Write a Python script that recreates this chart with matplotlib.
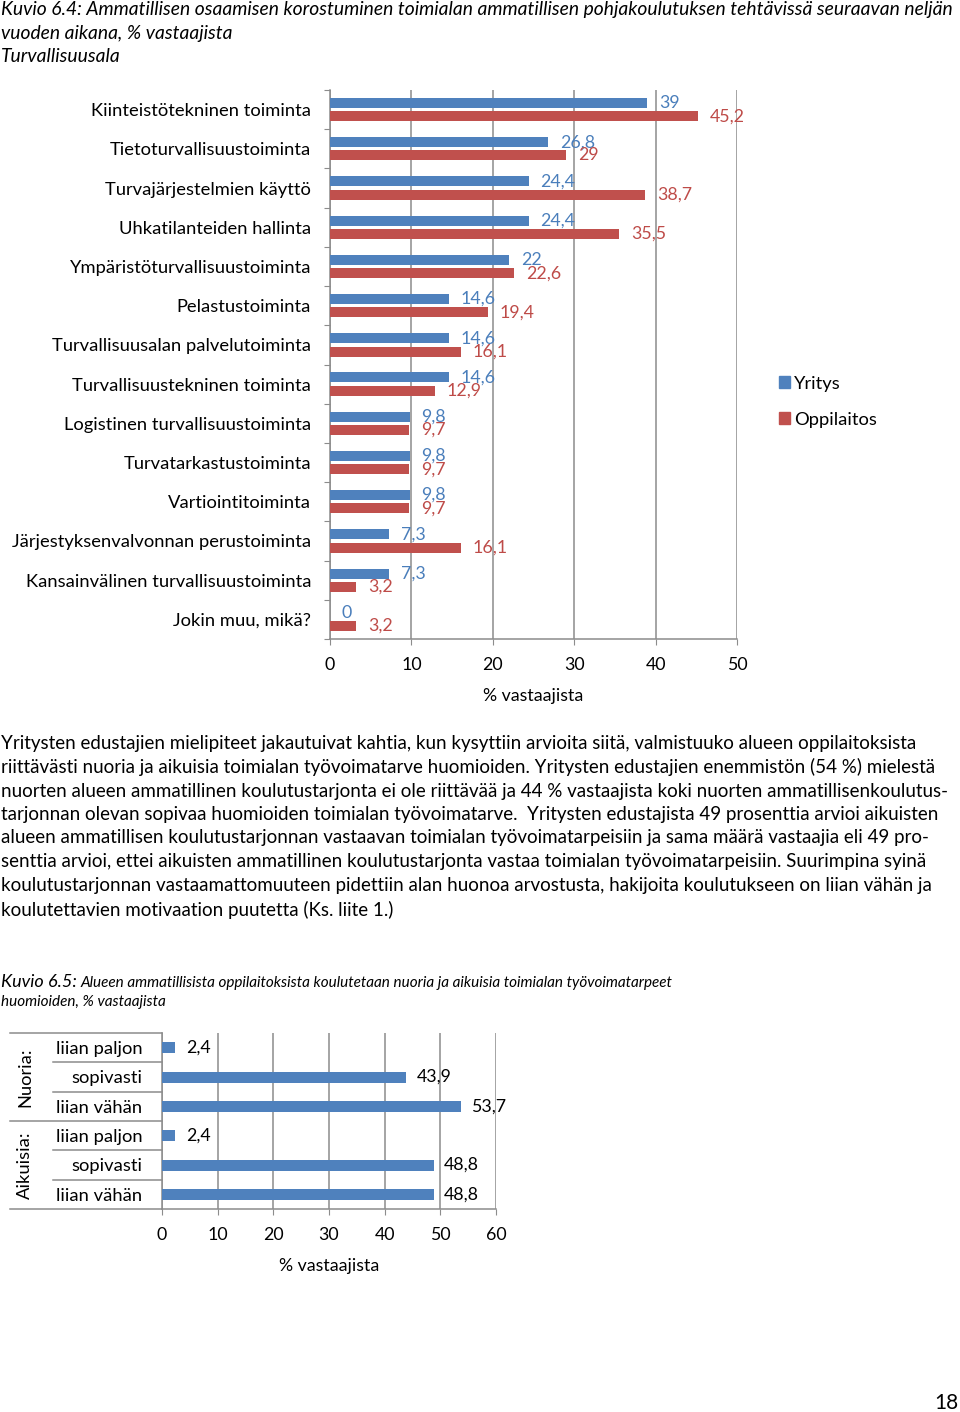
import matplotlib
matplotlib.use('Agg')
import matplotlib.pyplot as plt
from matplotlib.lines import Line2D
from matplotlib.patches import Patch
from matplotlib.transforms import blended_transform_factory
import numpy as np

plt.rcParams['font.family'] = ['Lato', 'DejaVu Sans']

# ---------------- data ----------------
categories = ["Kiinteistötekninen toiminta", "Tietoturvallisuustoiminta",
              "Turvajärjestelmien käyttö", "Uhkatilanteiden hallinta",
              "Ympäristöturvallisuustoiminta", "Pelastustoiminta",
              "Turvallisuusalan palvelutoiminta", "Turvallisuustekninen toiminta",
              "Logistinen turvallisuustoiminta", "Turvatarkastustoiminta",
              "Vartiointitoiminta", "Järjestyksenvalvonnan perustoiminta",
              "Kansainvälinen turvallisuustoiminta", "Jokin muu, mikä?"]
yritys = [39, 26.8, 24.4, 24.4, 22, 14.6, 14.6, 14.6, 9.8, 9.8, 9.8, 7.3, 7.3, 0]
oppilaitos = [45.2, 29, 38.7, 35.5, 22.6, 19.4, 16.1, 12.9, 9.7, 9.7, 9.7, 16.1, 3.2, 3.2]
series_names = ["Yritys", "Oppilaitos"]
xticks_top = [0, 10, 20, 30, 40, 50]

categories2 = ["liian paljon", "sopivasti", "liian vähän",
               "liian paljon", "sopivasti", "liian vähän"]
groups2 = ["Nuoria:", "Aikuisia:"]
values2 = [2.4, 43.9, 53.7, 2.4, 48.8, 48.8]
xticks_bottom = [0, 10, 20, 30, 40, 50, 60]

title_lines = ["Kuvio 6.4: Ammatillisen osaamisen korostuminen toimialan ammatillisen pohjakoulutuksen tehtävissä seuraavan neljän",
               "vuoden aikana, % vastaajista",
               "Turvallisuusala"]
para_lines = [
    "Yritysten edustajien mielipiteet jakautuivat kahtia, kun kysyttiin arvioita siitä, valmistuuko alueen oppilaitoksista",
    "riittävästi nuoria ja aikuisia toimialan työvoimatarve huomioiden. Yritysten edustajien enemmistön (54 %) mielestä",
    "nuorten alueen ammatillinen koulutustarjonta ei ole riittävää ja 44 % vastaajista koki nuorten ammatillisenkoulutus-",
    "tarjonnan olevan sopivaa huomioiden toimialan työvoimatarve.  Yritysten edustajista 49 prosenttia arvioi aikuisten",
    "alueen ammatillisen koulutustarjonnan vastaavan toimialan työvoimatarpeisiin ja sama määrä vastaajia eli 49 pro-",
    "senttia arvioi, ettei aikuisten ammatillinen koulutustarjonta vastaa toimialan työvoimatarpeisiin. Suurimpina syinä",
    "koulutustarjonnan vastaamattomuuteen pidettiin alan huonoa arvostusta, hakijoita koulutukseen on liian vähän ja",
    "koulutettavien motivaation puutetta (Ks. liite 1.)"]
title2_a = "Kuvio 6.5:"
title2_b = "Alueen ammatillisista oppilaitoksista koulutetaan nuoria ja aikuisia toimialan työvoimatarpeet"
title2_c = "huomioiden, % vastaajista"
page_no = "18"

# ---------------- styling ----------------
W, H = 960, 1412
BLUE = '#4F81BD'
RED = '#C0504D'
BLUE_TXT = '#4A7EBB'
RED_TXT = '#BE4B48'
GRID = '#8C8C8C'
FS = 13.2

def fx(px):
    return px / W

def fy(py):
    return 1 - py / H

def fmt(v):
    return f"{v:g}".replace('.', ',')

fig = plt.figure(figsize=(W / 100, H / 100), dpi=100)
fig.patch.set_facecolor('white')

# titles
for t, yy in zip(title_lines, [10, 34, 57]):
    fig.text(fx(1), fy(yy), t, fontsize=13.85, style='italic', ha='left', va='center')

# ---------------- chart 1 ----------------
ax1 = fig.add_axes([fx(330), fy(639), fx(737) - fx(330), fy(90) - fy(639)])
y = np.arange(len(categories))
ax1.barh(y - 0.17, yritys, height=0.255, color=BLUE, zorder=3)
ax1.barh(y + 0.17, oppilaitos, height=0.255, color=RED, zorder=3)
ax1.set_xlim(0, 50)
ax1.set_ylim(len(categories) - 0.5, -0.5)
ax1.set_xticks(xticks_top)
ax1.set_xticklabels([str(t) for t in xticks_top], fontsize=12.8)
ax1.set_yticks(np.arange(-0.5, len(categories), 1))
ax1.set_yticklabels([])
ax1.set_yticks(y, minor=True)
ax1.set_yticklabels(categories, minor=True, fontsize=FS)
ax1.tick_params(axis='y', which='minor', length=0, pad=13.5)
ax1.tick_params(axis='y', which='major', length=4, color=GRID, direction='out')
ax1.tick_params(axis='x', length=4, color=GRID, pad=9)
ax1.xaxis.grid(True, color=GRID, lw=1.1, zorder=0)
ax1.set_axisbelow(True)
for s in ['top', 'right']:
    ax1.spines[s].set_visible(False)
for s in ['left', 'bottom']:
    ax1.spines[s].set_color(GRID)
    ax1.spines[s].set_linewidth(1.1)
for yi, v in zip(y, yritys):
    ax1.annotate(fmt(v), xy=(v, yi - 0.17), xytext=(8.5, 0), textcoords='offset points',
                 va='center', ha='left', color=BLUE_TXT, fontsize=12.8)
for yi, v in zip(y, oppilaitos):
    ax1.annotate(fmt(v), xy=(v, yi + 0.17), xytext=(8.5, 0), textcoords='offset points',
                 va='center', ha='left', color=RED_TXT, fontsize=12.8)
ax1.set_xlabel('% vastaajista', fontsize=12.8, labelpad=11)
fig.legend([Patch(color=BLUE), Patch(color=RED)], series_names, loc='upper left',
           bbox_to_anchor=(fx(762), fy(359)), frameon=False, fontsize=FS,
           handlelength=0.65, handleheight=0.65, handletextpad=0.2, labelspacing=1.1)

# ---------------- paragraph ----------------
for t, yy in zip(para_lines, [743, 767, 791, 815, 838, 862, 886, 910]):
    fig.text(fx(1), fy(yy), t, fontsize=13.5, ha='left', va='center')

# ---------------- chart 2 title ----------------
fig.text(fx(1), fy(982), title2_a, fontsize=13.0, style='italic', ha='left', va='center')
fig.text(fx(81), fy(983), title2_b, fontsize=10.95, style='italic', ha='left', va='center')
fig.text(fx(1), fy(1002), title2_c, fontsize=10.95, style='italic', ha='left', va='center')

# ---------------- chart 2 ----------------
ax2 = fig.add_axes([fx(162), fy(1209), fx(496) - fx(162), fy(1033) - fy(1209)])
y2 = np.arange(len(categories2))
ax2.barh(y2, values2, height=0.375, color=BLUE, zorder=3)
ax2.set_xlim(0, 60)
ax2.set_ylim(len(categories2) - 0.5, -0.5)
ax2.set_xticks(xticks_bottom)
ax2.set_xticklabels([str(t) for t in xticks_bottom], fontsize=12.8)
ax2.set_yticks(y2)
ax2.set_yticklabels(categories2, fontsize=FS)
ax2.tick_params(axis='y', length=0, pad=14)
ax2.tick_params(axis='x', length=4, color=GRID, pad=9)
ax2.xaxis.grid(True, color=GRID, lw=1.1, zorder=0)
ax2.set_axisbelow(True)
for s in ['top', 'right']:
    ax2.spines[s].set_visible(False)
for s in ['left', 'bottom']:
    ax2.spines[s].set_color(GRID)
    ax2.spines[s].set_linewidth(1.1)
for yi, v in zip(y2, values2):
    ax2.annotate(fmt(v), xy=(v, yi), xytext=(7.5, 0), textcoords='offset points',
                 va='center', ha='left', color='black', fontsize=12.8)
ax2.set_xlabel('% vastaajista', fontsize=12.8, labelpad=11)

tr = blended_transform_factory(fig.transFigure, ax2.transData)
n_per = 3
for b in np.arange(-0.5, len(categories2), 1):
    if (b + 0.5) % n_per == 0:
        x0 = fx(10)
    else:
        x0 = fx(53)
    ax2.add_line(Line2D([x0, fx(162)], [b, b], transform=tr, color=GRID, lw=1.1, clip_on=False))
for gi, g in enumerate(groups2):
    ax2.text(fx(25), gi * n_per + (n_per - 1) / 2, g, transform=tr, rotation=90,
             ha='center', va='center', fontsize=FS)

fig.text(fx(946), fy(1403), page_no, fontsize=15, ha='center', va='center')

fig.savefig('out.png', dpi=100, facecolor='white')
